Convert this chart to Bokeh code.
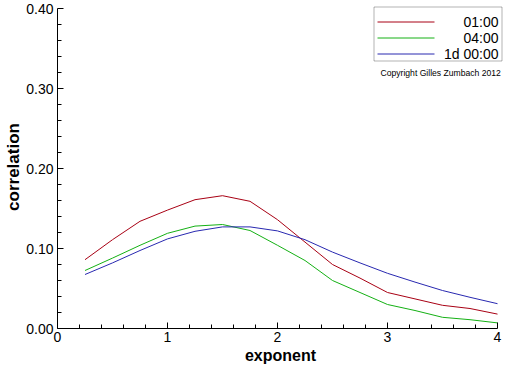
import numpy as np
from bokeh.plotting import figure
from bokeh.models import (Range1d, FixedTicker, NumeralTickFormatter, Label,
                          BoxAnnotation)
from bokeh.embed import file_html
from bokeh.resources import INLINE

# ---- data ----
exponent = [0.25, 0.5, 0.75, 1.0, 1.25, 1.5, 1.75, 2.0,
            2.25, 2.5, 2.75, 3.0, 3.25, 3.5, 3.75, 4.0]
corr_0100 = [0.086, 0.111, 0.134, 0.148, 0.161, 0.166, 0.159, 0.136,
             0.108, 0.080, 0.063, 0.045, 0.037, 0.029, 0.025, 0.018]
corr_0400 = [0.0725, 0.088, 0.104, 0.119, 0.128, 0.130, 0.1225, 0.104,
             0.085, 0.060, 0.045, 0.030, 0.0225, 0.014, 0.011, 0.007]
corr_1d = [0.0675, 0.082, 0.0975, 0.112, 0.1215, 0.127, 0.127, 0.122,
           0.111, 0.0955, 0.082, 0.069, 0.058, 0.0475, 0.039, 0.031]
series_labels = ["01:00", "04:00", "1d 00:00"]
series_colors = ["#a80014", "#14b014", "#2828b0"]
x_ticks = [0, 1, 2, 3, 4]
y_ticks = [0.0, 0.1, 0.2, 0.3, 0.4]
x_label = "exponent"
y_label = "correlation"
copyright_text = "Copyright Gilles Zumbach 2012"

# axis extents (data) and layout (px)
XA0, XA1 = 0.0, 4.0
YA0, YA1 = 0.0, 0.4
W, H = 512, 366
ML, MR, MT, MB = 57, 9, 5, 38
FW, FH = W - ML - MR, H - MT - MB          # 446 x 323
AX_W = 440                                  # px used by the x axis 0..4
AX_H = 320                                  # px used by the y axis 0..0.4
X1 = XA0 + (XA1 - XA0) * FW / AX_W
Y1 = YA0 + (YA1 - YA0) * FH / AX_H

FONT = "Liberation Sans"

p = figure(width=W, height=H, output_backend="svg", toolbar_location=None,
           x_range=Range1d(XA0, X1), y_range=Range1d(YA0, Y1),
           min_border_left=ML, min_border_right=MR,
           min_border_top=MT, min_border_bottom=MB)
p.outline_line_color = None
p.xgrid.visible = False
p.ygrid.visible = False
p.background_fill_color = "white"
p.border_fill_color = "white"

for ys, c in zip([corr_0100, corr_0400, corr_1d], series_colors):
    p.line(exponent, ys, line_color=c, line_width=1)

x_minor = [round(v, 2) for v in np.arange(0.2, 4.0, 0.2) if abs(v - round(v)) > 1e-6]
y_minor = [round(v, 3) for v in np.arange(0.02, 0.4, 0.02) if abs(v * 10 - round(v * 10)) > 1e-6]
p.xaxis.ticker = FixedTicker(ticks=x_ticks, minor_ticks=x_minor)
p.yaxis.ticker = FixedTicker(ticks=y_ticks, minor_ticks=y_minor)
p.yaxis.formatter = NumeralTickFormatter(format="0.00")
p.xaxis.bounds = (XA0, XA1)
p.yaxis.bounds = (YA0, YA1)

for ax in (p.xaxis[0], p.yaxis[0]):
    ax.major_tick_in = 6
    ax.major_tick_out = 0
    ax.minor_tick_in = 4
    ax.minor_tick_out = 0
    ax.axis_line_color = "black"
    ax.major_tick_line_color = "black"
    ax.minor_tick_line_color = "black"
    ax.major_label_text_font = FONT
    ax.major_label_text_font_size = "14px"
    ax.major_label_text_color = "black"
    ax.axis_label_text_font = FONT
    ax.axis_label_text_font_style = "bold"
    ax.axis_label_text_color = "black"
p.xaxis.major_label_standoff = 3
p.yaxis.major_label_standoff = 4
p.xaxis.axis_label = x_label
p.yaxis.axis_label = y_label
p.xaxis.axis_label_text_font_size = "16px"
p.yaxis.axis_label_text_font_size = "17px"
p.xaxis.axis_label_standoff = 2
p.yaxis.axis_label_standoff = 0


def sy(page_y):
    # page pixel row -> screen units (up from frame bottom)
    return (MT + FH) - page_y


def sx(page_x):
    return page_x - ML


def dx(page_x):
    return X1 * (page_x - ML) / FW


def dy(page_y):
    return Y1 * ((MT + FH) - page_y) / FH


# legend (drawn by hand: right-aligned labels)
p.add_layout(BoxAnnotation(left=sx(373.5), right=sx(501.5), top=sy(6.5),
                           bottom=sy(60.5),
                           left_units="screen", right_units="screen",
                           top_units="screen", bottom_units="screen",
                           fill_color="white", fill_alpha=1.0,
                           line_color="black", line_width=1, level="underlay"))
line_rows = [21.5, 37.5, 53.5]  # page px of each legend row
for row, lab, c in zip(line_rows, series_labels, series_colors):
    p.segment(x0=[dx(377)], x1=[dx(434)], y0=[dy(row)], y1=[dy(row)],
              line_color=c, line_width=1)
    p.add_layout(Label(x=sx(498), y=sy(row), x_units="screen", y_units="screen",
                       text=lab, text_align="right", text_baseline="middle",
                       text_font=FONT, text_font_size="14px",
                       text_color="black"))
p.add_layout(Label(x=sx(380), y=sy(72), x_units="screen", y_units="screen",
                   text=copyright_text, text_align="left", text_baseline="middle",
                   text_font=FONT, text_font_size="8.6px", text_color="black"))

open("out.html", "w").write(file_html(p, INLINE))
